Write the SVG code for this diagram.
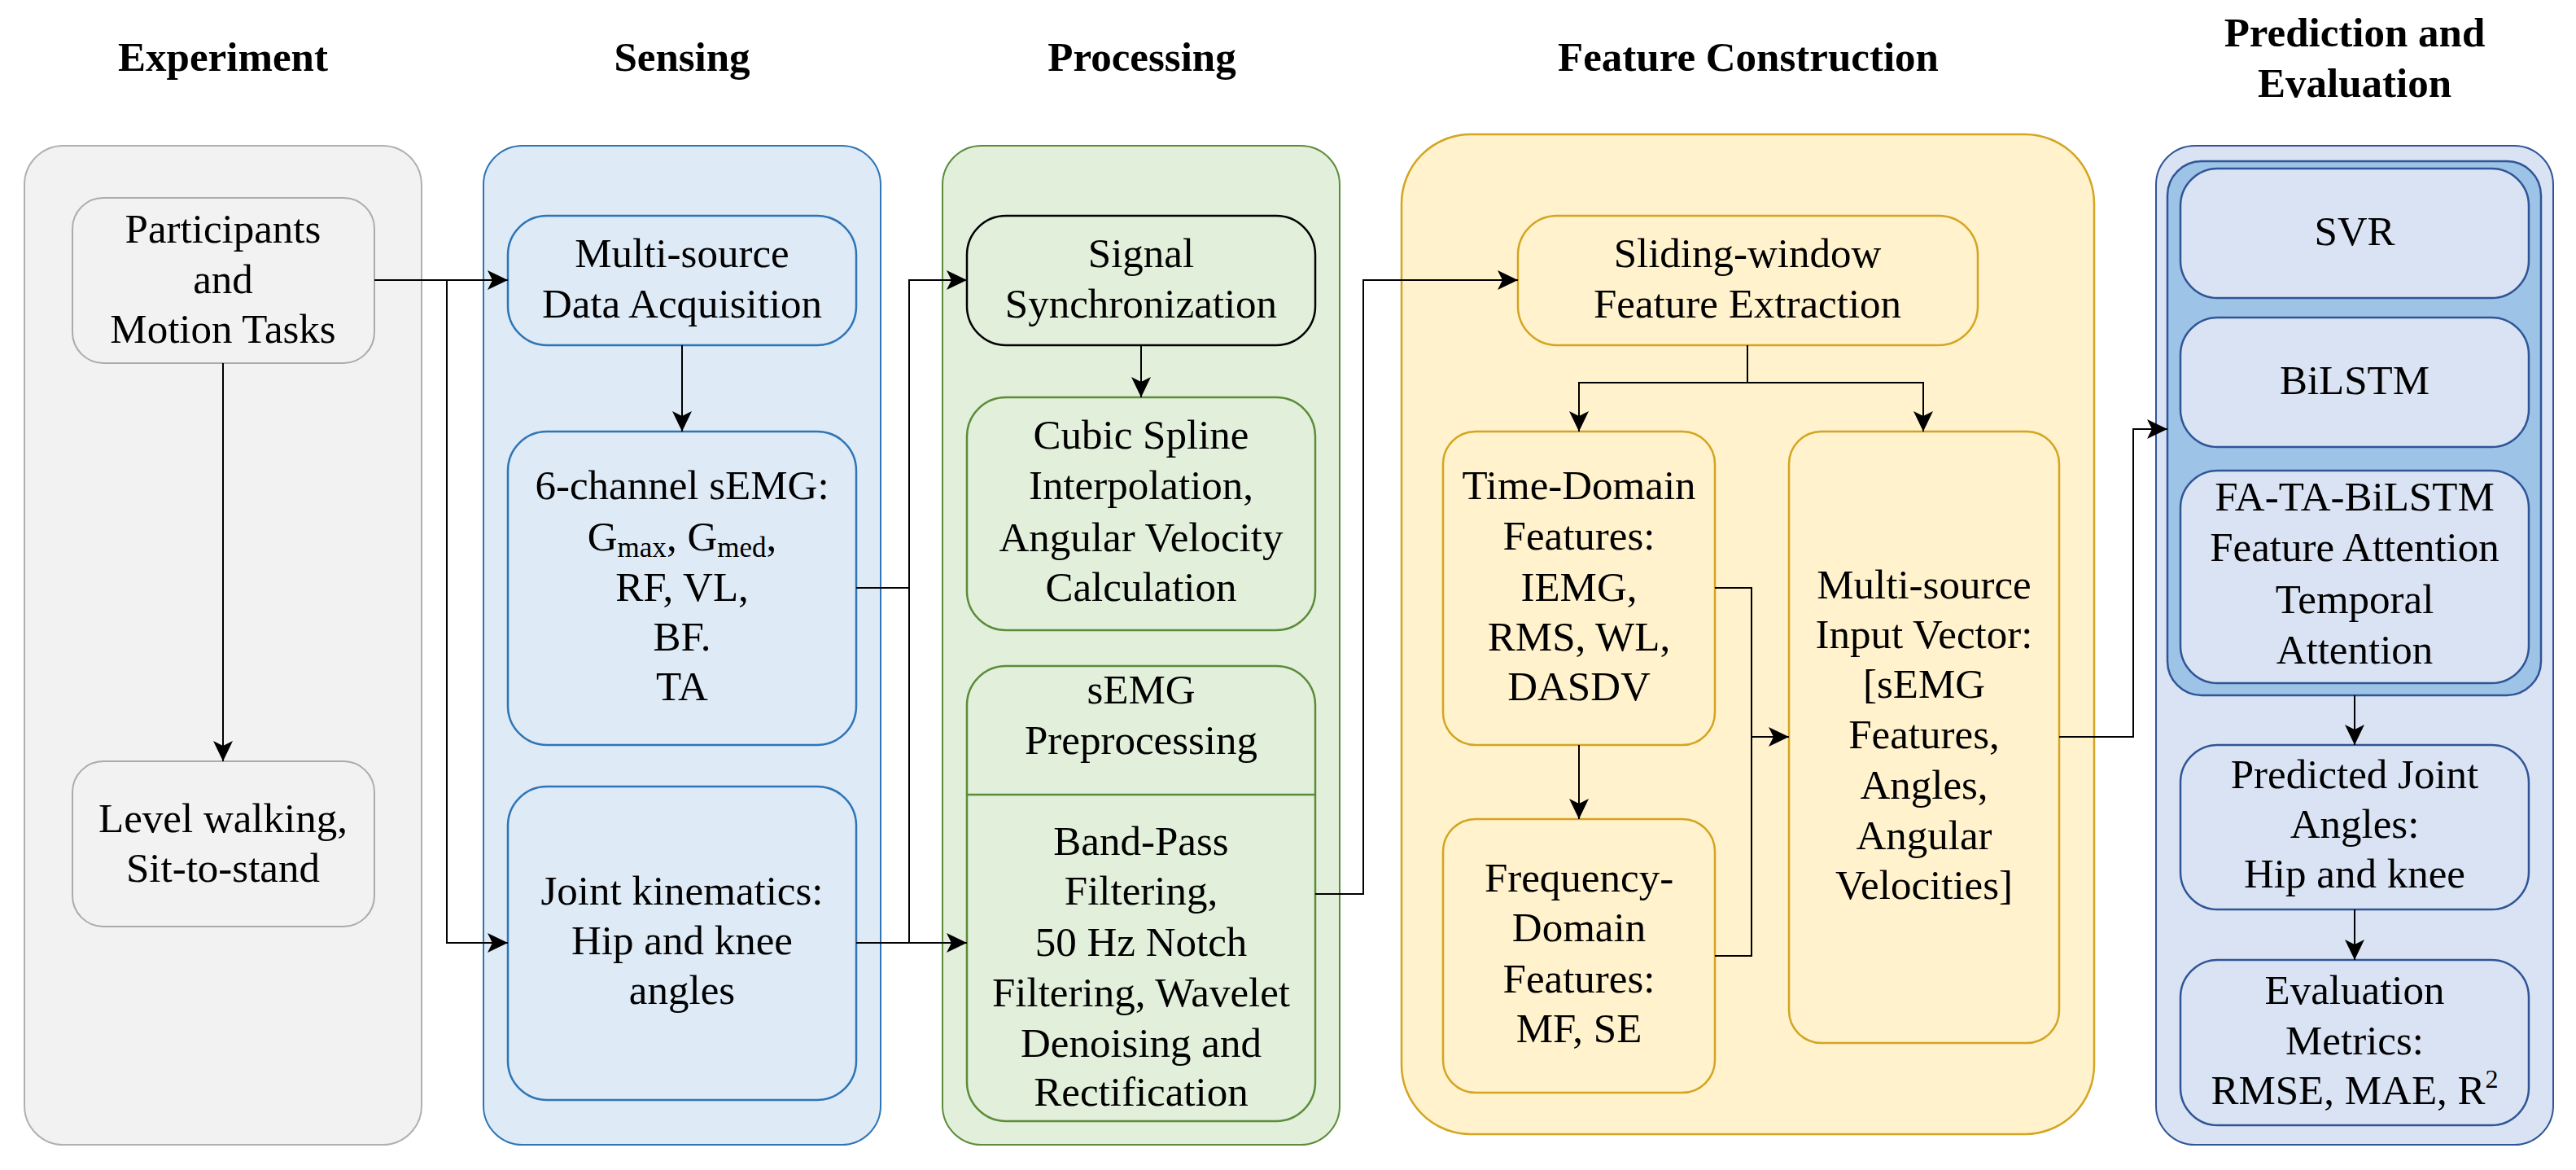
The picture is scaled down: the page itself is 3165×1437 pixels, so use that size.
<svg xmlns="http://www.w3.org/2000/svg" width="3165" height="1437" viewBox="0 0 3165 1437">
<style>
text{font-family:"Liberation Serif","Times New Roman",serif;font-size:51px;fill:#000;text-anchor:middle}
.title{font-weight:bold}
.sub{font-size:35px}
.conn{fill:none;stroke:#000;stroke-width:2}
.exp-c{fill:#F2F2F2;stroke:#B0B0B0;stroke-width:2}
.exp-n{fill:#F2F2F2;stroke:#ABABAB;stroke-width:2}
.sen-c{fill:#DEEAF6;stroke:#2E75B6;stroke-width:2}
.sen-n{fill:#DEEAF6;stroke:#2E75B6;stroke-width:2.5}
.pro-c{fill:#E2EFDA;stroke:#5B8C3A;stroke-width:2}
.pro-n{fill:#E2EFDA;stroke:#5B8C3A;stroke-width:2.5}
.pro-k{fill:#E2EFDA;stroke:#000;stroke-width:2.5}
.fea-c{fill:#FFF2CC;stroke:#D4A520;stroke-width:2.5}
.fea-n{fill:#FFF2CC;stroke:#D4A520;stroke-width:2.5}
.pre-c{fill:#DAE3F3;stroke:#2F5597;stroke-width:2}
.pre-g{fill:#9DC3E6;stroke:#2F5597;stroke-width:2.5}
.pre-n{fill:#DAE3F3;stroke:#2F5597;stroke-width:2.5}
</style>
<defs>
<marker id="arr" markerUnits="userSpaceOnUse" markerWidth="26" markerHeight="24" refX="25" refY="12" orient="auto">
<path d="M0,0 L25,12 L0,24 L6,12 Z" fill="#000"/>
</marker>
</defs>
<rect width="3165" height="1437" fill="#FFFFFF"/>

<g id="titles">
<text class="title" x="274" y="87">Experiment</text>
<text class="title" x="838" y="87">Sensing</text>
<text class="title" x="1403" y="87">Processing</text>
<text class="title" x="2148" y="87">Feature Construction</text>
<text class="title" x="2893" y="57">Prediction and</text>
<text class="title" x="2893" y="119">Evaluation</text>
</g>

<g id="containers">
<rect id="experiment" class="exp-c" x="30" y="179" width="488" height="1227" rx="48"/>
<rect id="sensing" class="sen-c" x="594" y="179" width="488" height="1227" rx="48"/>
<rect id="processing" class="pro-c" x="1158" y="179" width="488" height="1227" rx="48"/>
<rect id="feature-construction" class="fea-c" x="1722" y="165" width="851" height="1228" rx="85"/>
<rect id="prediction" class="pre-c" x="2649" y="179" width="488" height="1227" rx="48"/>
</g>

<g id="participants">
<rect class="exp-n" x="89" y="243" width="371" height="203" rx="38"/>
<text x="274" y="298">Participants</text>
<text x="274" y="360">and</text>
<text x="274" y="421">Motion Tasks</text>
</g>
<g id="level-walking">
<rect class="exp-n" x="89" y="935" width="371" height="203" rx="38"/>
<text x="274" y="1022">Level walking,</text>
<text x="274" y="1083">Sit-to-stand</text>
</g>

<g id="data-acquisition">
<rect class="sen-n" x="624" y="265" width="428" height="159" rx="48"/>
<text x="838" y="328">Multi-source</text>
<text x="838" y="390">Data Acquisition</text>
</g>
<g id="semg-channels">
<rect class="sen-n" x="624" y="530" width="428" height="385" rx="48"/>
<text x="838" y="613">6-channel sEMG:</text>
<text x="838" y="676">G<tspan class="sub" dy="8">max</tspan><tspan dy="-8">, G</tspan><tspan class="sub" dy="8">med</tspan><tspan dy="-8">,</tspan></text>
<text x="838" y="738">RF, VL,</text>
<text x="838" y="799">BF.</text>
<text x="838" y="860">TA</text>
</g>
<g id="joint-kinematics">
<rect class="sen-n" x="624" y="966" width="428" height="385" rx="48"/>
<text x="838" y="1111">Joint kinematics:</text>
<text x="838" y="1172">Hip and knee</text>
<text x="838" y="1233">angles</text>
</g>

<g id="signal-sync">
<rect class="pro-k" x="1188" y="265" width="428" height="159" rx="48"/>
<text x="1402" y="328">Signal</text>
<text x="1402" y="390">Synchronization</text>
</g>
<g id="cubic-spline">
<rect class="pro-n" x="1188" y="488" width="428" height="286" rx="48"/>
<text x="1402" y="551">Cubic Spline</text>
<text x="1402" y="613">Interpolation,</text>
<text x="1402" y="677">Angular Velocity</text>
<text x="1402" y="738">Calculation</text>
</g>
<g id="semg-preprocessing">
<rect class="pro-n" x="1188" y="818" width="428" height="559" rx="48"/>
<line x1="1188" y1="976" x2="1616" y2="976" stroke="#5B8C3A" stroke-width="2.5"/>
<text x="1402" y="864">sEMG</text>
<text x="1402" y="926">Preprocessing</text>
<text x="1402" y="1050">Band-Pass</text>
<text x="1402" y="1111">Filtering,</text>
<text x="1402" y="1174">50 Hz Notch</text>
<text x="1402" y="1236">Filtering, Wavelet</text>
<text x="1402" y="1298">Denoising and</text>
<text x="1402" y="1358">Rectification</text>
</g>

<g id="sliding-window">
<rect class="fea-n" x="1865" y="265" width="565" height="159" rx="48"/>
<text x="2147" y="328">Sliding-window</text>
<text x="2147" y="390">Feature Extraction</text>
</g>
<g id="time-domain">
<rect class="fea-n" x="1773" y="530" width="334" height="385" rx="40"/>
<text x="1940" y="613">Time-Domain</text>
<text x="1940" y="675">Features:</text>
<text x="1940" y="738">IEMG,</text>
<text x="1940" y="799">RMS, WL,</text>
<text x="1940" y="860">DASDV</text>
</g>
<g id="frequency-domain">
<rect class="fea-n" x="1773" y="1006" width="334" height="336" rx="40"/>
<text x="1940" y="1095">Frequency-</text>
<text x="1940" y="1156">Domain</text>
<text x="1940" y="1219">Features:</text>
<text x="1940" y="1280">MF, SE</text>
</g>
<g id="input-vector">
<rect class="fea-n" x="2198" y="530" width="332" height="751" rx="40"/>
<text x="2364" y="735">Multi-source</text>
<text x="2364" y="796">Input Vector:</text>
<text x="2364" y="857">[sEMG</text>
<text x="2364" y="919">Features,</text>
<text x="2364" y="981">Angles,</text>
<text x="2364" y="1043">Angular</text>
<text x="2364" y="1104">Velocities]</text>
</g>

<g id="models">
<rect class="pre-g" x="2663" y="198" width="459" height="656" rx="42"/>
<g id="svr">
<rect class="pre-n" x="2679" y="207" width="428" height="159" rx="46"/>
<text x="2893" y="301">SVR</text>
</g>
<g id="bilstm">
<rect class="pre-n" x="2679" y="390" width="428" height="159" rx="46"/>
<text x="2893" y="484">BiLSTM</text>
</g>
<g id="fa-ta-bilstm">
<rect class="pre-n" x="2679" y="578" width="428" height="261" rx="46"/>
<text x="2893" y="627">FA-TA-BiLSTM</text>
<text x="2893" y="689">Feature Attention</text>
<text x="2893" y="753">Temporal</text>
<text x="2893" y="815">Attention</text>
</g>
</g>
<g id="predicted-angles">
<rect class="pre-n" x="2679" y="915" width="428" height="202" rx="46"/>
<text x="2893" y="968">Predicted Joint</text>
<text x="2893" y="1029">Angles:</text>
<text x="2893" y="1090">Hip and knee</text>
</g>
<g id="evaluation-metrics">
<rect class="pre-n" x="2679" y="1179" width="428" height="203" rx="46"/>
<text x="2893" y="1233">Evaluation</text>
<text x="2893" y="1295">Metrics:</text>
<text x="2893" y="1356">RMSE, MAE, R<tspan font-size="32" dy="-20">2</tspan></text>
</g>

<g id="connectors">
<path class="conn" d="M460,344 H624" marker-end="url(#arr)"/>
<path class="conn" d="M549,344 V1158 H624" marker-end="url(#arr)"/>
<path class="conn" d="M274,446 V935" marker-end="url(#arr)"/>
<path class="conn" d="M838,424 V530" marker-end="url(#arr)"/>
<path class="conn" d="M1052,722 H1117"/>
<path class="conn" d="M1052,1158 H1188" marker-end="url(#arr)"/>
<path class="conn" d="M1117,1158 V344 H1188" marker-end="url(#arr)"/>
<path class="conn" d="M1402,424 V488" marker-end="url(#arr)"/>
<path class="conn" d="M1616,1098 H1675 V344 H1865" marker-end="url(#arr)"/>
<path class="conn" d="M2147,424 V470"/>
<path class="conn" d="M2147,470 H1940 V530" marker-end="url(#arr)"/>
<path class="conn" d="M2147,470 H2363 V530" marker-end="url(#arr)"/>
<path class="conn" d="M1940,915 V1006" marker-end="url(#arr)"/>
<path class="conn" d="M2107,722 H2152 V1174 H2107"/>
<path class="conn" d="M2152,905 H2198" marker-end="url(#arr)"/>
<path class="conn" d="M2530,905 H2621 V527 H2663" marker-end="url(#arr)"/>
<path class="conn" d="M2893,854 V915" marker-end="url(#arr)"/>
<path class="conn" d="M2893,1117 V1179" marker-end="url(#arr)"/>
</g>
</svg>
